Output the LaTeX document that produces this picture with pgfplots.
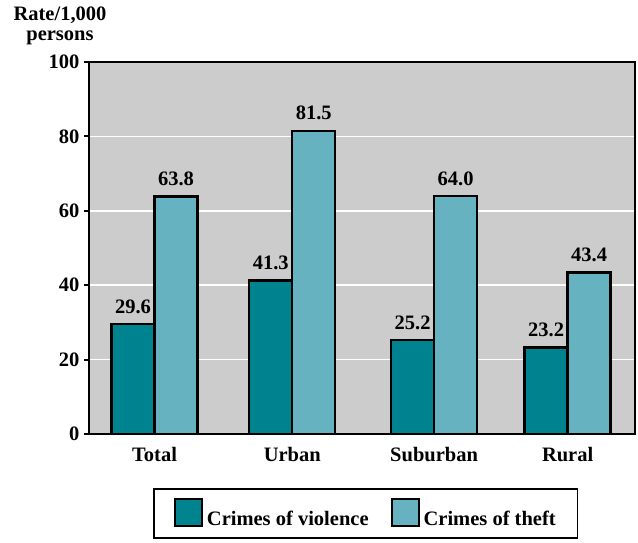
\documentclass[border=0pt]{standalone}
\usepackage{fontspec}
\setmainfont{Liberation Serif}
\usepackage{pgfplots}
\pgfplotsset{compat=1.18}
\usepackage{pgfplotstable}

\definecolor{violence}{RGB}{0,130,143}
\definecolor{theft}{RGB}{102,178,192}
\definecolor{panel}{RGB}{204,204,204}
\newcommand\lab{\bfseries\fontsize{20.5}{23}\selectfont}

% x: category position, v: crimes of violence, t: crimes of theft (rate per 1,000 persons)
\pgfplotstableread{
x     v     t
0     29.6  63.8
1     41.3  81.5
2.03  25.2  64.0
3     23.2  43.4
}\rates

\begin{document}
\begin{tikzpicture}
\path[use as bounding box] (0,0) rectangle (638pt,543pt);
\node[anchor=north, align=center, inner sep=0pt, font=\lab] at (60pt,536pt)
  {Rate/1,000\\[-3pt]persons};
\begin{axis}[
  at={(89pt,109pt)}, anchor=south west,
  scale only axis, width=546pt, height=372pt,
  xmin=-0.476, xmax=3.489, ymin=0, ymax=100,
  ybar=0pt, bar width=43pt,
  axis background/.style={fill=panel},
  axis line style={line width=2.8pt},
  ymajorgrids, major grid style={white, line width=1.6pt},
  ytick={0,20,...,100},
  xtick=data, xticklabels={Total,Urban,Suburban,Rural},
  x tick style={draw=none},
  y tick style={black, line width=2pt},
  major tick length=5pt, tick align=outside,
  ytick pos=left,
  /pgf/number format/assume math mode=true,
  tick label style={font=\lab},
  yticklabel style={xshift=-1pt},
  xticklabel style={yshift=-5pt},
  nodes near coords={\pgfmathprintnumber[fixed,fixed zerofill,precision=1,assume math mode=true]{\pgfplotspointmeta}},
  every node near coord/.append style={font=\lab, yshift=6pt},
  legend columns=2,
  legend style={at={(0.507,-0.214)}, anchor=center, draw=black, line width=1.6pt,
    inner xsep=20pt, inner ysep=9pt, font=\lab,
    /tikz/every odd column/.append style={column sep=2pt},
    /tikz/every even column/.append style={column sep=20pt}},
  legend image code/.code={\draw[#1, draw=black, line width=2pt] (0pt,-7pt) rectangle (27pt,20pt);},
]
\addplot[fill=violence, draw=black, line width=2.4pt] table[x=x, y=v] {\rates};
\addplot[fill=theft, draw=black, line width=2.4pt] table[x=x, y=t] {\rates};
\legend{Crimes of violence, Crimes of theft}
\end{axis}
\end{tikzpicture}
\end{document}
